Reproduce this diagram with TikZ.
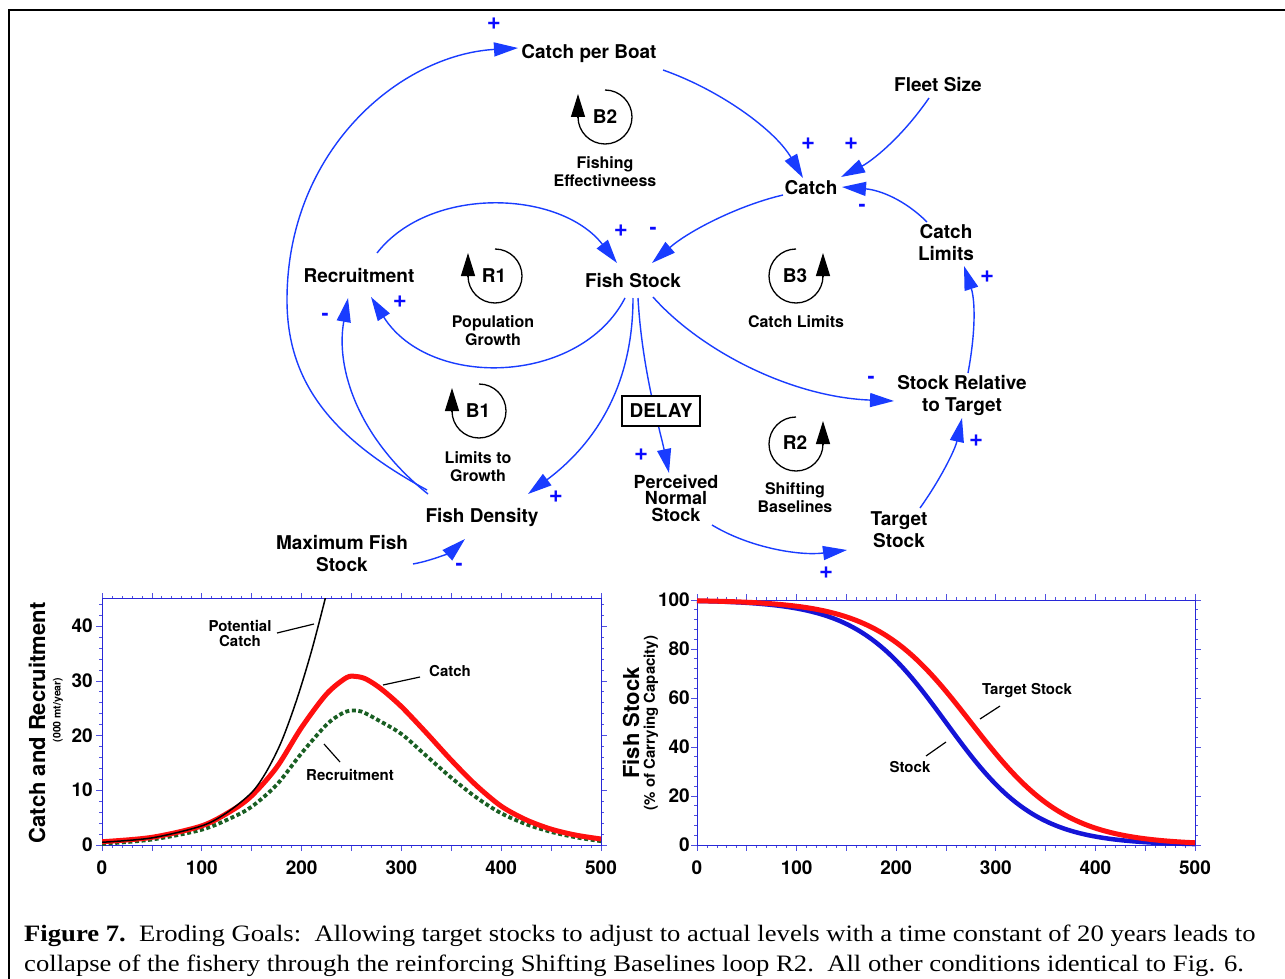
\documentclass[tikz,border=0pt]{standalone}
\usepackage{fontspec}
\usepackage{graphicx}
\setmainfont{Liberation Serif}
\newfontfamily\hv{TeX Gyre Heros}
\usetikzlibrary{arrows.meta,calc}
\definecolor{lnk}{RGB}{25,60,255}
\definecolor{sgn}{RGB}{10,10,255}
\definecolor{axc}{RGB}{40,40,215}
\definecolor{tkc}{RGB}{80,80,225}
\definecolor{rdc}{RGB}{255,15,15}
\definecolor{grc}{RGB}{25,95,35}
\definecolor{blc}{RGB}{20,20,215}
\tikzset{
  var/.style={font=\hv\bfseries\fontsize{19}{22}\selectfont, align=center, inner sep=0pt},
  looplbl/.style={font=\hv\bfseries\fontsize{16}{18}\selectfont, align=center, inner sep=0pt},
  loopid/.style={font=\hv\bfseries\fontsize{19}{19}\selectfont, inner sep=0pt},
  sgnp/.style={font=\hv\bfseries\fontsize{24}{24}\selectfont, text=sgn, inner sep=0pt},
  sgnm/.style={font=\hv\bfseries\fontsize{21}{21}\selectfont, text=sgn, inner sep=0pt},
  link/.style={draw=lnk, line width=1.4pt, -{Triangle[length=24pt,width=14pt]}},
  looparc/.style={draw=black, line width=1.3pt},
  looptip/.style={draw=black, line width=1.3pt, -{Triangle[length=23pt,width=14pt]}},
  ticklbl/.style={font=\hv\bfseries\fontsize{19}{19}\selectfont, inner sep=0pt},
  chartlbl/.style={font=\hv\bfseries\fontsize{15}{15}\selectfont, align=center, inner sep=0pt},
  leader/.style={draw=black, line width=1.2pt},
  axisbox/.style={draw=axc, line width=0.9pt},
  tk/.style={draw=tkc, line width=0.8pt},
  captxt/.style={anchor=west, font=\fontsize{23.5}{23.5}\selectfont, inner sep=0pt},
}
\begin{document}
\begin{tikzpicture}[x=1pt,y=-1pt]
\useasboundingbox (0,0) rectangle (1285,979);
\fill[white] (0,0) rectangle (1285,979);
\draw[line width=2.2pt] (9,979) -- (9,10) -- (1285,10);

% ---------------- variables
\node[var] (cpb) at (589,54) {Catch per Boat};
\node[var] (fleet) at (938,85) {Fleet Size};
\node[var] (catch) at (811,188) {Catch};
\node[var] (cl) at (946,243) {Catch\\Limits};
\node[var] (rec) at (359,276) {Recruitment};
\node[var] (fs) at (633,281) {Fish Stock};
\node[var] (srt) at (962,395) {Stock Relative\\to Target};
\node[var, font=\hv\bfseries\fontsize{18}{16.5}\selectfont] (pns) at (676,498) {Perceived\\Normal\\Stock};
\node[var] (ts) at (899,530) {Target\\Stock};
\node[var] (fd) at (482,517) {Fish Density};
\node[var] (mfs) at (342,554) {Maximum Fish\\Stock};

% ---------------- links
\draw[link] ($(fd)+(-55,-27)$) .. controls (335,440) and (287,385) .. (287,300)
   .. controls (287,150) and (400,55) .. ($(cpb)+(-71,-6)$);
\draw[link] ($(fd)+(-54,-23)$) .. controls (360,440) and (335,370) .. ($(rec)+(-11,22)$);
\draw[link] ($(cpb)+(74,16)$) .. controls (720,90) and (775,130) .. ($(catch)+(-8,-10)$);
\draw[link] ($(fleet)+(-9,13)$) .. controls (900,140) and (870,162) .. ($(catch)+(30,-11)$);
\draw[link] ($(cl)+(-19,-21)$) .. controls (905,200) and (880,190) .. ($(catch)+(31,-1)$);
\draw[link] ($(catch)+(-28,7)$) .. controls (740,205) and (690,230) .. ($(fs)+(19,-18)$);
\draw[link] ($(rec)+(18,-23)$) .. controls (430,185) and (560,190) .. ($(fs)+(-16,-18)$);
\draw[link] ($(fs)+(-8,17)$) .. controls (580,385) and (430,390) .. ($(rec)+(12,21)$);
\draw[link] ($(fs)+(0,17)$) .. controls (633,380) and (600,440) .. ($(fd)+(46,-23)$);
\draw[link] ($(fs)+(5,17)$) .. controls (642,370) and (660,430) .. ($(pns)+(-7,-25)$);
\draw[link] ($(fs)+(20,16)$) .. controls (700,350) and (790,397) .. ($(srt)+(-68,6)$);
\draw[link] ($(srt)+(6,-22)$) .. controls (976,330) and (975,300) .. ($(cl)+(18,23)$);
\draw[link] ($(ts)+(21,-22)$) .. controls (940,480) and (955,450) .. ($(srt)+(0,23)$);
\draw[link] ($(pns)+(36,27)$) .. controls (750,548) and (800,556) .. ($(ts)+(-52,20)$);
\draw[link] ($(mfs)+(71,10)$) .. controls (435,560) and (452,551) .. ($(fd)+(-17,22)$);

\node[draw=black, line width=1.4pt, fill=white, minimum width=78pt, minimum height=30pt,
      font=\hv\bfseries\fontsize{19}{19}\selectfont, inner sep=0pt] (delay) at (661,411) {DELAY};

% ---------------- polarity signs
\node[sgnp] (s1) at (494,24) {+};
\node[sgnp] (s2) at (808,144) {+};
\node[sgnp] (s3) at (851,144) {+};
\node[sgnm] (s4) at (862,208) {-};
\node[sgnp] (s5) at (621,231) {+};
\node[sgnm] (s6) at (653,231) {-};
\node[sgnp] (s7) at (400,302) {+};
\node[sgnm] (s8) at (325,317) {-};
\node[sgnp] (s9) at (556,497) {+};
\node[sgnp] (s10) at (641,455) {+};
\node[sgnm] (s11) at (871,380) {-};
\node[sgnp] (s12) at (987,277) {+};
\node[sgnp] (s13) at (976,441) {+};
\node[sgnp] (s14) at (826,573) {+};
\node[sgnm] (s15) at (459,567) {-};

% ---------------- loop symbols
\draw[looparc] (605,90) arc[start angle=-90, end angle=180, radius=27];
\draw[looptip] (578,117) -- (578,94);
\node[loopid] (b2) at (605,117) {B2};
\node[looplbl] (b2l) at (605,172) {Fishing\\Effectivneess};

\draw[looparc] (495,249) arc[start angle=-90, end angle=180, radius=27];
\draw[looptip] (468,276) -- (468,253);
\node[loopid] (r1) at (494,276) {R1};
\node[looplbl] (r1l) at (493,331) {Population\\Growth};

\draw[looparc] (479,384) arc[start angle=-90, end angle=180, radius=27];
\draw[looptip] (452,411) -- (452,388);
\node[loopid] (b1) at (478,411) {B1};
\node[looplbl] (b1l) at (478,467) {Limits to\\Growth};

\draw[looparc] (796,249) arc[start angle=-90, end angle=-360, radius=27];
\draw[looptip] (823,276) -- (823,253);
\node[loopid] (b3) at (795,276) {B3};
\node[looplbl] (b3l) at (796,322) {Catch Limits};

\draw[looparc] (796,417) arc[start angle=-90, end angle=-360, radius=27];
\draw[looptip] (823,444) -- (823,421);
\node[loopid] (r2) at (795,443) {R2};
\node[looplbl] (r2l) at (795,498) {Shifting\\Baselines};

% ---------------- left chart
\begin{scope}[shift={(102,845)}, x=0.998pt, y=5.47pt]
  \foreach \t in {0,10,...,500} {\draw[tk] (\t,0) -- ++(0pt,-3pt); \draw[tk] (\t,45) -- ++(0pt,3pt);}
  \foreach \t in {0,50,...,500} {\draw[tk] (\t,0) -- ++(0pt,-6pt); \draw[tk] (\t,45) -- ++(0pt,6pt);}
  \foreach \v in {0,2,...,44} {\draw[tk] (0,\v) -- ++(-3pt,0pt); \draw[tk] (500,\v) -- ++(3pt,0pt);}
  \foreach \v in {0,10,...,40} {\draw[tk] (0,\v) -- ++(-6pt,0pt); \draw[tk] (500,\v) -- ++(6pt,0pt);}
  \draw[axisbox] (0,0) rectangle (500,45);
  \begin{scope}
    \clip (0,-1) rectangle (500,45);
    \draw[grc, line width=3.8pt, dash pattern=on 4pt off 2.6pt] plot[smooth] coordinates {
      (0,0.2) (50,1.0) (100,2.8) (130,5) (150,7) (175,11) (200,16.8) (225,22) (240,24) (250,24.6)
      (260,24.4) (275,23) (300,20.3) (325,16.3) (350,12.3) (375,8.7) (400,5.8) (425,3.8)
      (450,2.4) (475,1.4) (500,0.7)};
    \draw[rdc, line width=5pt] plot[smooth] coordinates {
      (0,0.6) (50,1.4) (100,3.5) (130,6.3) (150,9) (175,14.2) (200,21.5) (225,27.6) (245,30.6)
      (255,30.8) (265,30.3) (280,28.5) (300,25.3) (325,20.5) (350,15.5) (375,10.9) (400,7.1)
      (425,4.6) (450,2.9) (475,1.8) (500,1.1)};
    \draw[black, line width=1.5pt] plot[smooth] coordinates {
      (0,0.5) (50,1.3) (100,3.5) (125,5.9) (150,9.6) (165,13.5) (180,19) (195,26.5) (210,35.5) (225,46) (230,50)};
  \end{scope}
\end{scope}
\foreach \v/\yy in {0/845,10/790,20/736,30/681,40/626}
  {\node[ticklbl, anchor=east] (ly\v) at (93,\yy) {\v};}
\foreach \t in {0,100,200,300,400,500}
  {\node[ticklbl] (lx\t) at ({102+\t*0.998},868) {\t};}
\node[rotate=90, font=\hv\bfseries\fontsize{22}{22}\selectfont, inner sep=0pt] (lyt) at (37,723) {Catch and Recruitment};
\node[rotate=90, font=\hv\bfseries\fontsize{10.5}{10.5}\selectfont, inner sep=0pt] (lys) at (58,710) {(000 mt/year)};
\node[chartlbl] (pcl) at (240,633) {Potential\\Catch};
\draw[leader] (277,633) -- (314,624);
\node[chartlbl] (ccl) at (450,671) {Catch};
\draw[leader] (383,685) -- (420,677);
\node[chartlbl] (rcl) at (350,775) {Recruitment};
\draw[leader] (324,744) -- (340,762);

% ---------------- right chart
\begin{scope}[shift={(697,845)}, x=0.996pt, y=2.45pt]
  \foreach \t in {0,10,...,500} {\draw[tk] (\t,0) -- ++(0pt,-3pt); \draw[tk] (\t,100) -- ++(0pt,3pt);}
  \foreach \t in {0,50,...,500} {\draw[tk] (\t,0) -- ++(0pt,-6pt); \draw[tk] (\t,100) -- ++(0pt,6pt);}
  \foreach \v in {0,4,...,100} {\draw[tk] (0,\v) -- ++(-3pt,0pt); \draw[tk] (500,\v) -- ++(3pt,0pt);}
  \foreach \v in {0,20,...,100} {\draw[tk] (0,\v) -- ++(-6pt,0pt); \draw[tk] (500,\v) -- ++(6pt,0pt);}
  \draw[axisbox] (0,0) rectangle (500,100);
  \draw[blc, line width=4.5pt] plot[domain=0:500, samples=126, smooth] (\x, {100/(1+exp((\x-250)/45))});
  \draw[rdc, line width=5pt] plot[domain=0:500, samples=126, smooth] (\x, {100/(1+exp((\x-275)/48))});
\end{scope}
\foreach \v/\yy in {0/845,20/796,40/747,60/698,80/649,100/600}
  {\node[ticklbl, anchor=east] (ry\v) at (690,\yy) {\v};}
\foreach \t in {0,100,200,300,400,500}
  {\node[ticklbl] (rx\t) at ({697+\t*0.996},868) {\t};}
\node[rotate=90, font=\hv\bfseries\fontsize{22}{22}\selectfont, inner sep=0pt] (ryt) at (631,723) {Fish Stock};
\node[rotate=90, font=\hv\bfseries\fontsize{15}{15}\selectfont, inner sep=0pt] (rys) at (651,723) {(\% of Carrying Capacity)};
\node[chartlbl] (tsl) at (1027,691) {Target Stock};
\draw[leader] (980,719) -- (1000,706);
\node[chartlbl] (stl) at (910,767) {Stock};
\draw[leader] (926,756) -- (946,742);

% ---------------- caption
\node[captxt] (cap1) at (24,936)
  {\scalebox{1.134}[1]{\textbf{Figure 7.}\ \ Eroding Goals:\ \ Allowing target stocks to adjust to actual levels with a time constant of 20 years leads to}};
\node[captxt] (cap2) at (24,966)
  {\scalebox{1.134}[1]{collapse of the fishery through the reinforcing Shifting Baselines loop R2.\ \ All other conditions identical to Fig. 6.}};
\end{tikzpicture}
\end{document}
